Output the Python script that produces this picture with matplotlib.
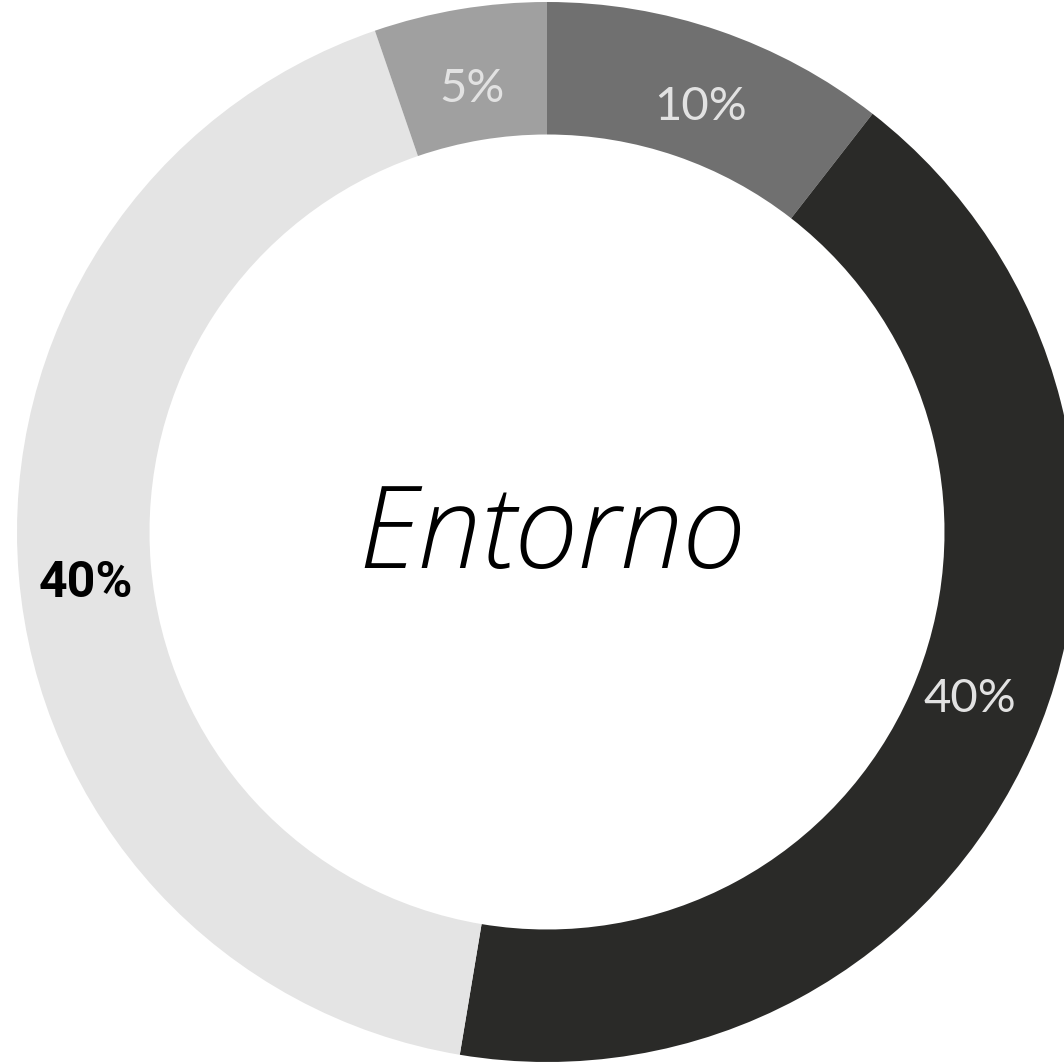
import matplotlib.pyplot as plt
import numpy as np

# donut: clockwise from 12 o'clock
values = [10, 40, 40, 5]
labels = ["10%", "40%", "40%", "5%"]
colors = ["#707070", "#2a2a28", "#e4e4e4", "#a0a0a0"]
label_colors = ["#e2e2e2", "#e2e2e2", "#000000", "#e2e2e2"]
label_weights = ["normal", "normal", "bold", "normal"]
center_text = "Entorno"

fig = plt.figure(figsize=(10.64, 10.63), dpi=100)
ax = fig.add_axes([0, 0, 1, 1])

wedges, _ = ax.pie(values, colors=colors, startangle=90, counterclock=False,
                   radius=1.0, wedgeprops=dict(width=0.25, linewidth=0))

# labels in the middle of the ring (small nudges like the original)
r_lab = [0.86, 0.855, 0.875, 0.855]
nudge = [-0.8, 2.6, 1.0, 0.0]
for w, lab, c, fw, r, dn in zip(wedges, labels, label_colors, label_weights, r_lab, nudge):
    ang = np.deg2rad((w.theta1 + w.theta2) / 2 + dn)
    fam = ["Roboto", "DejaVu Sans"] if fw == "bold" else ["Lato", "DejaVu Sans"]
    ax.text(r * np.cos(ang), r * np.sin(ang), lab, ha="center", va="center_baseline",
            fontsize=36 if fw == "bold" else 34, color=c, fontweight=fw, family=fam)

ax.text(0.01, -0.012, center_text, ha="center", va="center", fontsize=82,
        style="italic", fontweight="light", family=["Open Sans", "DejaVu Sans"])

# place the pie like the reference (center ~ (547, 532) px, radius 530 px)
ax.set_xlim(-547 / 530, (1064 - 547) / 530)
ax.set_ylim(-(1063 - 532) / 530, 532 / 530)
ax.set_aspect("auto")
ax.axis("off")

fig.savefig("out.png", dpi=100)
